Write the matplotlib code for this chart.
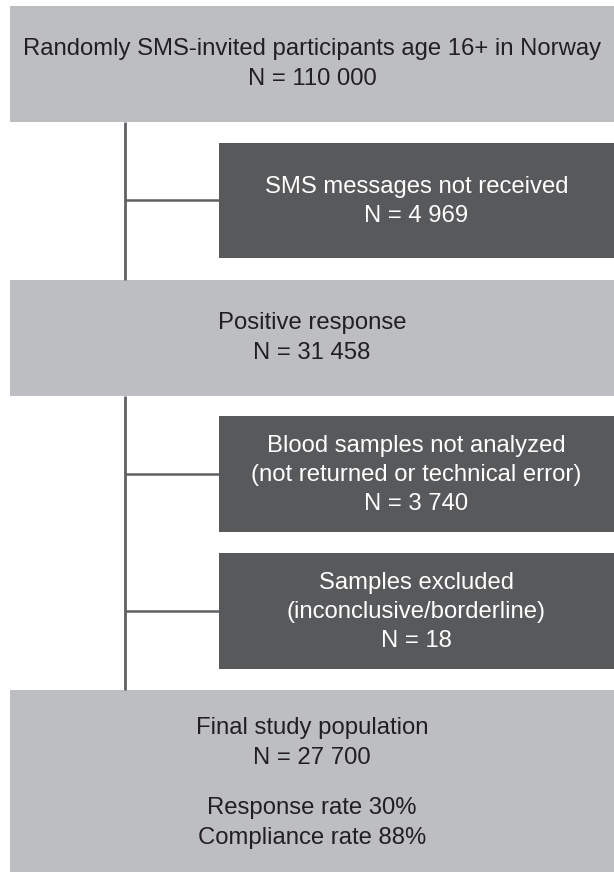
import matplotlib.pyplot as plt
from matplotlib.patches import Rectangle

# Flow chart contents
main_labels = ["Randomly SMS-invited participants age 16+ in Norway",
               "Positive response",
               "Final study population"]
main_n = [110000, 31458, 27700]

excl_labels = ["SMS messages not received",
               "Blood samples not analyzed\n(not returned or technical error)",
               "Samples excluded\n(inconclusive/borderline)"]
excl_n = [4969, 3740, 18]

response_rate = 30
compliance_rate = 88

# Layout in pixels (y goes down)
W, H = 614, 872
main_x0 = 10
main_y = [(6, 122), (280, 396), (690, 872)]
excl_x0 = 219
excl_y = [(143, 258), (416, 532), (553, 669)]
stem_x = 125

light = '#bdbec1'
dark = '#58595b'
line_col = '#5f6062'
txt_col = '#231f20'
fsize = 17.2


def fmt_n(n):
    return 'N = ' + f"{n:,}".replace(',', ' ')


fig = plt.figure(figsize=(W / 100, H / 100), dpi=100)
ax = fig.add_axes([0, 0, 1, 1])
ax.set_xlim(0, W)
ax.set_ylim(H, 0)
ax.axis('off')
plt.rcParams['font.family'] = ['Liberation Sans', 'DejaVu Sans']

# stem lines between the main boxes
ax.plot([stem_x, stem_x], [main_y[0][1], main_y[1][0]], color=line_col, lw=2, solid_capstyle='butt')
ax.plot([stem_x, stem_x], [main_y[1][1], main_y[2][0]], color=line_col, lw=2, solid_capstyle='butt')

# main boxes
for i, (y0, y1) in enumerate(main_y):
    ax.add_patch(Rectangle((main_x0, y0), W - main_x0, y1 - y0, facecolor=light, edgecolor='none'))
    cx = (main_x0 + W) / 2
    if i < 2:
        ax.text(cx, (y0 + y1) / 2, main_labels[i] + '\n' + fmt_n(main_n[i]),
                ha='center', va='center', fontsize=fsize, color=txt_col, linespacing=1.5)
    else:
        ax.text(cx, y0 + 53, main_labels[i] + '\n' + fmt_n(main_n[i]),
                ha='center', va='center', fontsize=fsize, color=txt_col, linespacing=1.5)
        ax.text(cx, y0 + 133, f"Response rate {response_rate}%\nCompliance rate {compliance_rate}%",
                ha='center', va='center', fontsize=fsize, color=txt_col, linespacing=1.5)

# exclusion boxes with side connectors
for i, (y0, y1) in enumerate(excl_y):
    cy = (y0 + y1) / 2
    ax.plot([stem_x, excl_x0], [cy, cy], color=line_col, lw=1.8, solid_capstyle='butt')
    ax.add_patch(Rectangle((excl_x0, y0), W - excl_x0, y1 - y0, facecolor=dark, edgecolor='none'))
    ax.text((excl_x0 + W) / 2, cy + 1, excl_labels[i] + '\n' + fmt_n(excl_n[i]),
            ha='center', va='center', fontsize=fsize, color='white', linespacing=1.42)

fig.savefig('out.png', dpi=100)
